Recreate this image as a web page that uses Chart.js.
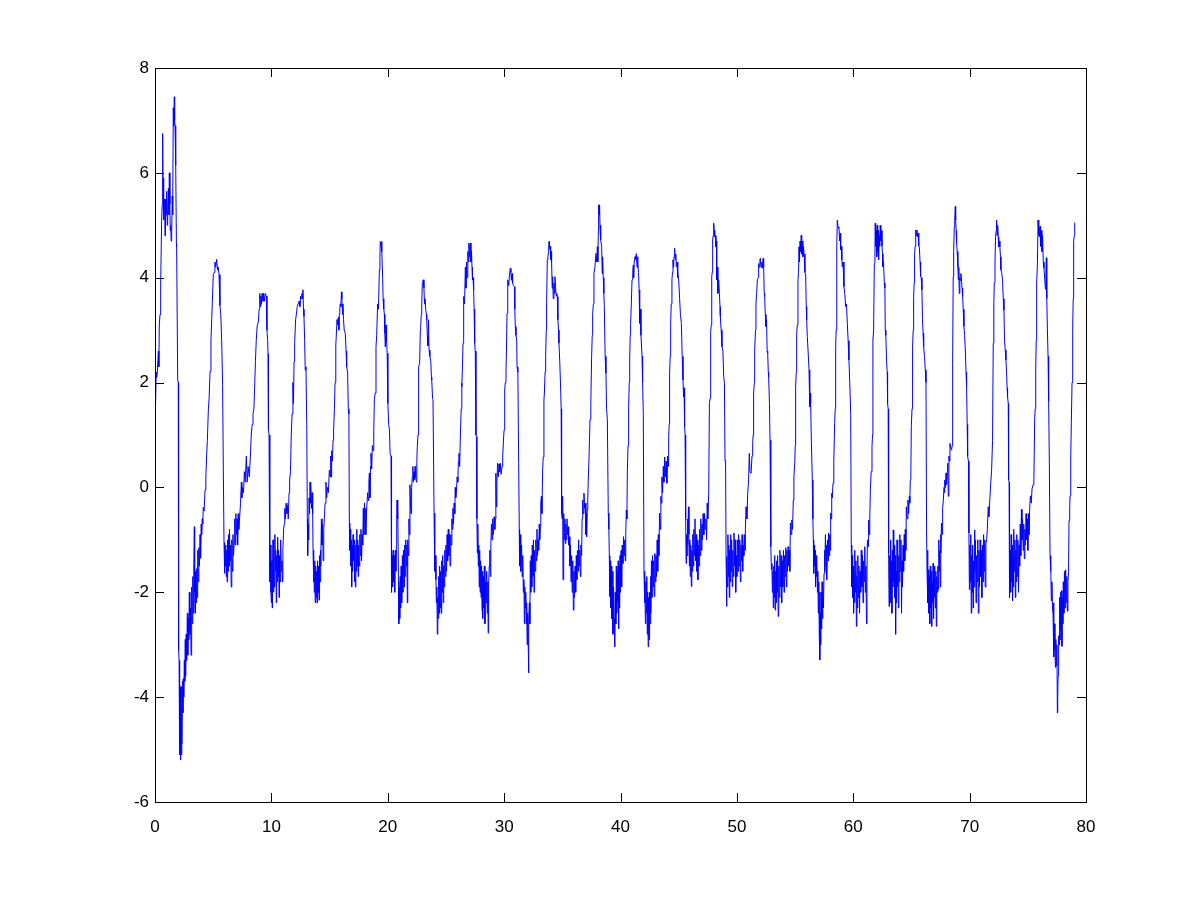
<!DOCTYPE html>
<html>
<head>
<meta charset="utf-8">
<script src="https://cdn.jsdelivr.net/npm/chart.js@4"></script>
<style>
  body { margin: 0; background: #fff; }
  canvas { display: block; }
</style>
</head>
<body>
<canvas id="signal-chart" width="1200" height="901"></canvas>
<script>
// sample times
const timeSec = [
  0.05,0.1,0.14,0.2,0.29,0.33,0.37,0.43,0.49,0.57,0.62,0.66,0.69,0.72,0.77,
  0.82,0.86,0.9,0.95,1.0,1.05,1.09,1.15,1.2,1.23,1.28,1.31,1.35,1.39,1.43,
  1.48,1.52,1.57,1.62,1.66,1.69,1.72,1.76,1.8,1.84,1.86,1.95,2.0,
  2.03,2.07,2.1,2.13,2.16,2.19,2.22,2.26,2.29,2.32,2.36,2.4,2.43,2.47,2.52,
  2.56,2.6,2.63,2.68,2.72,2.78,2.82,2.86,2.9,2.95,3.0,3.05,3.1,3.15,3.2,
  3.25,3.29,3.33,3.38,3.41,3.44,3.48,3.53,3.58,3.62,3.67,3.72,3.77,3.82,3.87,
  3.92,3.97,4.01,4.06,4.1,4.15,4.22,4.3,
  4.37,4.44,4.5,4.58,4.65,4.73,4.81,4.87,4.93,5.01,5.08,5.15,5.22,5.3,5.37,
  5.44,5.5,5.58,5.65,5.73,5.81,5.87,5.93,
  // cycle 1
  5.97,6.0,6.04,6.08,6.12,6.16,6.2,6.24,6.28,6.32,6.36,6.4,6.45,6.5,6.55,
  6.6,6.65,6.7,6.75,6.8,6.85,6.9,6.95,7.0,7.05,7.1,7.15,7.2,7.28,7.35,
  7.42,7.46,7.52,7.6,7.68,7.75,7.85,7.92,8.0,8.1,8.2,8.27,8.35,8.42,8.5,
  8.56,8.63,8.7,8.79,8.88,8.95,9.0,9.05,9.1,9.15,9.2,9.27,9.33,9.4,9.47,
  9.56,9.62,9.68,9.71,9.74,9.76,9.8,9.85,
  // cycle 2
  9.88,9.92,9.96,10.0,10.03,10.07,10.1,10.14,10.18,10.22,10.26,10.3,10.34,10.38,10.42,
  10.46,10.5,10.54,10.58,10.62,10.66,10.7,10.75,10.8,10.85,10.9,10.95,10.99,11.05,11.1,
  11.15,11.2,11.27,11.33,11.4,11.45,11.52,11.57,11.64,11.71,11.78,11.85,11.9,11.95,12.0,
  12.08,12.15,12.22,12.3,12.38,12.45,12.52,12.58,12.63,12.67,12.71,12.76,12.8,12.86,12.91,
  12.97,13.04,13.09,13.12,13.16,13.2,13.24,13.28,13.32,13.36,13.4,13.45,13.5,13.55,13.58,
  // cycle 3
  13.62,13.65,13.69,13.73,13.77,13.81,13.85,13.89,13.93,13.97,14.01,14.05,14.1,14.14,14.18,
  14.22,14.26,14.3,14.35,14.4,14.45,14.5,14.55,14.62,14.69,14.75,14.82,14.9,14.98,15.05,
  15.1,15.15,15.18,15.25,15.3,15.35,15.42,15.47,15.52,15.55,15.6,15.64,15.7,15.76,15.8,
  15.84,15.88,15.92,15.97,16.02,16.06,16.12,16.15,16.2,16.26,16.35,16.42,16.47,16.55,16.61,
  16.66,16.7,
  // cycle 4
  16.74,16.78,16.82,16.86,16.9,16.94,16.98,17.02,17.06,17.1,17.14,17.18,17.22,17.26,17.3,
  17.34,17.38,17.42,17.46,17.5,17.55,17.6,17.65,17.7,17.75,17.8,17.85,17.9,17.95,18.0,
  18.05,18.1,18.13,18.2,18.27,18.33,18.38,18.42,18.47,18.52,18.56,18.62,18.68,18.75,18.8,
  18.85,18.92,18.99,19.05,19.13,19.2,19.28,19.33,19.36,19.42,19.48,19.5,19.56,19.6,19.66,
  19.71,19.75,19.79,19.85,19.9,19.95,20.0,20.02,20.08,20.15,20.2,20.28,20.31,
  // cycle 5
  20.34,20.38,20.42,20.46,20.5,20.55,20.6,20.65,20.7,20.74,20.77,20.8,20.84,20.88,20.92,
  20.95,20.99,21.03,21.07,21.11,21.15,21.2,21.26,21.3,21.35,21.4,21.45,21.5,21.55,21.6,
  21.65,21.68,21.72,21.77,21.82,21.86,21.91,21.95,22.0,22.05,22.11,22.16,22.2,22.26,22.3,
  22.35,22.4,22.46,22.5,22.54,22.6,22.63,22.68,22.74,22.8,22.83,22.88,22.92,22.97,23.02,
  23.06,23.11,23.16,23.2,23.26,23.32,23.35,23.4,23.45,23.5,23.55,23.62,23.7,23.75,23.78,
  23.85,23.89,23.98,
  // cycle 6
  24.02,24.06,24.1,24.14,24.18,24.22,24.26,24.3,24.34,24.38,24.42,24.46,24.5,24.55,24.6,
  24.64,24.68,24.72,24.77,24.81,24.85,24.9,24.95,25.0,25.05,25.1,25.15,25.2,25.25,25.3,
  25.36,25.41,25.46,25.51,25.55,25.6,25.65,25.7,25.76,25.8,25.84,25.9,25.96,26.02,26.07,
  26.12,26.18,26.23,26.27,26.31,26.35,26.38,26.42,26.47,26.5,26.52,26.55,26.6,26.67,26.72,
  26.77,26.82,26.88,26.93,26.97,27.02,27.06,27.1,27.15,27.2,27.24,27.28,27.33,27.38,27.42,
  27.47,27.52,27.58,27.62,27.66,
  // cycle 7
  27.7,27.74,27.78,27.82,27.86,27.9,27.94,27.98,28.02,28.06,28.1,28.14,28.18,28.22,28.26,
  28.3,28.35,28.4,28.45,28.5,28.55,28.6,28.63,28.67,28.72,28.77,28.81,28.86,28.91,28.96,
  29.02,29.08,29.14,29.2,29.24,29.29,29.33,29.38,29.44,29.5,29.56,29.62,29.68,29.74,29.82,
  29.88,29.96,30.0,30.05,30.1,30.16,30.2,30.25,30.29,30.33,30.4,30.46,30.53,30.58,30.63,
  30.68,30.73,30.8,30.88,30.92,30.96,31.02,31.08,31.11,31.18,31.25,31.3,
  // cycle 8
  31.33,31.37,31.41,31.45,31.5,31.55,31.6,31.65,31.7,31.74,31.78,31.82,31.86,31.9,31.94,
  31.98,32.02,32.06,32.1,32.13,32.17,32.21,32.25,32.29,32.33,32.38,32.42,32.47,32.52,32.57,
  32.62,32.67,32.72,32.77,32.82,32.87,32.92,32.97,33.02,33.06,33.11,33.15,33.2,33.25,33.31,
  33.36,33.42,33.46,33.52,33.57,33.62,33.65,33.71,33.76,33.82,33.86,33.9,33.95,34.0,34.03,
  34.08,34.13,34.17,34.22,34.28,34.33,34.37,34.42,34.48,34.53,34.57,34.62,34.68,34.71,34.78,
  34.86,34.9,34.94,
  // cycle 9
  34.98,35.03,35.06,35.1,35.14,35.18,35.22,35.26,35.3,35.35,35.4,35.45,35.51,35.55,35.6,
  35.65,35.7,35.75,35.8,35.85,35.9,35.95,36.0,36.05,36.1,36.15,36.2,36.25,36.3,36.35,
  36.4,36.45,36.5,36.55,36.6,36.66,36.7,36.75,36.8,36.86,36.92,36.98,37.03,37.06,37.09,
  37.14,37.19,37.23,37.3,37.38,37.45,37.52,37.57,37.61,37.67,37.72,37.8,37.89,37.95,38.01,
  38.05,38.1,38.12,38.16,38.2,38.25,38.28,38.32,38.38,38.43,38.46,38.52,38.57,38.61,38.68,
  38.75,38.8,38.87,38.95,
  // cycle 10
  39.0,39.04,39.08,39.12,39.16,39.2,39.25,39.3,39.35,39.4,39.45,39.5,39.55,39.6,39.64,
  39.68,39.72,39.76,39.8,39.84,39.88,39.92,39.96,40.0,40.05,40.1,40.15,40.21,40.26,40.31,
  40.36,40.41,40.45,40.5,40.55,40.59,40.65,40.7,40.75,40.79,40.83,40.87,40.93,40.99,41.05,
  41.1,41.13,41.18,41.25,41.3,41.36,41.42,41.47,41.5,41.55,41.6,41.65,41.7,41.76,41.85,
  41.9,41.96,42.02,
  // cycle 11
  42.06,42.1,42.14,42.18,42.22,42.26,42.3,42.34,42.38,42.42,42.46,42.5,42.54,42.58,42.62,
  42.66,42.7,42.75,42.8,42.85,42.9,42.95,43.0,43.05,43.1,43.15,43.2,43.25,43.3,43.36,
  43.42,43.47,43.51,43.56,43.62,43.68,43.73,43.8,43.85,43.92,43.98,44.05,44.1,44.14,44.18,
  44.22,44.27,44.31,44.36,44.42,44.47,44.51,44.56,44.6,44.65,44.7,44.75,44.8,44.86,44.9,
  44.94,45.0,45.08,45.15,45.23,45.3,45.37,45.42,45.46,45.51,45.55,45.6,
  // cycle 12
  45.64,45.68,45.72,45.76,45.8,45.84,45.88,45.92,45.96,46.0,46.04,46.09,46.13,46.17,46.21,
  46.26,46.3,46.35,46.4,46.45,46.5,46.55,46.6,46.65,46.7,46.75,46.8,46.85,46.9,46.95,
  47.0,47.05,47.1,47.16,47.22,47.28,47.34,47.4,47.45,47.5,47.58,47.64,47.7,47.75,47.8,
  47.84,47.88,47.92,47.96,48.01,48.06,48.1,48.15,48.2,48.24,48.27,48.32,48.37,48.44,48.5,
  48.55,48.58,48.65,48.72,48.8,48.87,48.93,48.98,49.03,49.07,
  // cycle 13
  49.11,49.15,49.19,49.23,49.27,49.31,49.35,49.39,49.43,49.47,49.51,49.55,49.6,49.65,49.7,
  49.75,49.8,49.85,49.9,49.95,50.0,50.05,50.1,50.15,50.2,50.25,50.3,50.35,50.4,50.45,
  50.5,50.55,50.6,50.65,50.7,50.73,50.79,50.86,50.93,51.0,51.07,51.13,51.22,51.3,51.36,
  51.4,51.44,51.5,51.53,51.6,51.64,51.7,51.76,51.82,51.87,51.92,51.98,52.02,52.08,52.14,
  52.2,52.26,52.3,52.35,52.39,52.44,52.5,52.55,52.6,52.65,52.7,52.73,52.8,52.85,52.9,
  52.93,
  // cycle 14
  52.97,53.01,53.05,53.09,53.13,53.17,53.21,53.25,53.29,53.33,53.37,53.41,53.45,53.5,53.55,
  53.6,53.65,53.7,53.75,53.8,53.85,53.9,53.95,54.0,54.05,54.1,54.15,54.2,54.25,54.3,
  54.35,54.4,54.45,54.5,54.55,54.6,54.66,54.72,54.78,54.85,54.9,54.97,55.02,55.05,55.1,
  55.14,55.2,55.25,55.3,55.34,55.38,55.43,55.48,55.53,55.57,55.62,55.67,55.72,55.78,55.85,
  55.91,55.96,56.0,56.05,56.12,56.2,56.26,56.3,56.34,56.4,56.48,56.53,56.57,
  // cycle 15
  56.6,56.64,56.68,56.72,56.76,56.8,56.84,56.88,56.92,56.96,57.0,57.04,57.08,57.11,57.14,
  57.17,57.2,57.24,57.28,57.32,57.36,57.4,57.44,57.49,57.53,57.57,57.61,57.66,57.7,57.74,
  57.79,57.84,57.88,57.93,57.98,58.03,58.06,58.1,58.15,58.2,58.26,58.33,58.4,58.45,58.49,
  58.53,58.57,58.6,58.63,58.7,58.77,58.83,58.88,58.92,58.98,59.02,59.06,59.12,59.2,59.27,
  59.35,59.42,59.49,59.56,59.63,59.7,59.78,59.83,
  // cycle 16
  59.87,59.91,59.95,59.99,60.03,60.07,60.11,60.15,60.19,60.23,60.27,60.31,60.35,60.39,60.44,
  60.49,60.54,60.59,60.64,60.69,60.74,60.79,60.84,60.89,60.94,60.99,61.04,61.09,61.14,61.18,
  61.22,61.27,61.32,61.37,61.42,61.47,61.54,61.61,61.66,61.69,61.75,61.81,61.86,61.89,61.93,
  61.97,62.02,62.06,62.1,62.14,62.18,62.22,62.27,62.32,62.37,62.42,62.47,62.51,62.55,62.6,
  62.67,62.72,62.75,62.8,62.87,62.92,62.95,63.0,63.04,
  // cycle 17
  63.08,63.12,63.16,63.2,63.24,63.28,63.32,63.36,63.4,63.44,63.48,63.52,63.56,63.6,63.64,
  63.68,63.72,63.76,63.8,63.84,63.88,63.92,63.96,64.0,64.05,64.1,64.15,64.19,64.23,64.28,
  64.33,64.38,64.43,64.47,64.52,64.56,64.63,64.7,64.76,64.82,64.86,64.9,64.95,64.99,65.05,
  65.1,65.15,65.19,65.23,65.27,65.32,65.37,65.42,65.47,65.52,65.58,65.63,65.68,65.74,65.79,
  65.84,65.9,65.95,66.0,66.05,66.12,66.19,66.25,66.3,
  // cycle 18
  66.34,66.38,66.42,66.46,66.5,66.54,66.58,66.62,66.66,66.7,66.74,66.78,66.82,66.86,66.9,
  66.94,66.98,67.02,67.06,67.1,67.14,67.18,67.22,67.27,67.31,67.35,67.39,67.43,67.48,67.51,
  67.54,67.58,67.63,67.68,67.74,67.8,67.84,67.88,67.92,67.97,68.02,68.07,68.12,68.17,68.22,
  68.26,68.31,68.38,68.45,68.5,68.54,68.59,68.63,68.68,68.72,68.77,68.8,68.84,68.88,68.93,
  68.99,69.03,69.07,69.11,69.16,69.2,69.25,69.3,69.35,69.4,69.45,69.51,69.57,69.63,69.69,
  69.74,69.79,69.83,69.9,69.94,
  // cycle 19
  69.98,70.02,70.06,70.1,70.14,70.18,70.22,70.26,70.3,70.34,70.38,70.42,70.46,70.5,70.55,
  70.6,70.65,70.7,70.75,70.8,70.85,70.9,70.95,71.0,71.05,71.1,71.15,71.2,71.25,71.3,
  71.34,71.4,71.46,71.52,71.6,71.65,71.75,71.82,71.89,71.97,72.03,72.08,72.12,72.18,72.23,
  72.28,72.32,72.36,72.41,72.46,72.5,72.55,72.6,72.65,72.69,72.75,72.83,72.89,72.95,73.0,
  73.06,73.12,73.18,73.22,73.26,73.32,73.35,73.39,73.41,
  // cycle 20
  73.45,73.49,73.53,73.57,73.61,73.65,73.69,73.73,73.77,73.81,73.85,73.89,73.93,73.97,74.01,
  74.05,74.1,74.15,74.2,74.25,74.3,74.35,74.4,74.45,74.5,74.55,74.6,74.65,74.7,74.75,
  74.8,74.85,74.9,74.95,75.0,75.05,75.1,75.16,75.22,75.3,75.36,75.45,75.52,75.59,75.63,
  75.68,75.72,75.76,75.82,75.88,75.92,75.96,76.0,76.05,76.1,76.16,76.21,76.27,76.33,76.39,
  76.45,76.51,76.55,76.59,76.63,76.68,76.74,76.79,76.85,76.91,
  // cycle 21
  76.95,76.99,77.02,77.07,77.12,77.17,77.21,77.25,77.29,77.33,77.37,77.41,77.45,77.5,77.54,
  77.57,77.6,77.65,77.69,77.73,77.77,77.81,77.85,77.89,77.93,77.97,78.01,78.05,78.1,78.15,
  78.2,78.25,78.3,78.35,78.4,78.45,78.5,78.54,78.6,78.63,78.69,78.74,78.8,78.86,78.9,
  78.94,78.99,79.03
];

// signal values, same layout as timeSec
const signal = [
  1.6,2.2,2.1,2.2,2.6,2.3,3.1,3.3,3.9,5.1,5.4,6.75,5.6,5.9,5.1,
  5.5,4.8,5.5,5.2,5.65,5.0,5.3,5.7,5.2,6.0,5.4,4.9,5.0,4.7,4.75,
  5.56,5.2,7.24,6.9,7.45,7.0,6.9,6.4,6.15,4.64,4.6,2.05,2.0,
  -3.1,-3.3,-4.2,-5.1,-3.8,-5.2,-4.0,-5.1,-3.8,-4.9,-3.7,-4.3,-3.65,-4.0,-3.3,
  -3.7,-2.9,-3.6,-2.8,-3.3,-2.4,-3.2,-2.5,-2.9,-2.0,-2.8,-2.3,-3.2,-1.9,-2.6,
  -1.7,-2.4,-1.6,-0.75,-2.0,-2.4,-1.6,-2.2,-1.55,-2.1,-1.2,-1.8,-1.15,-1.5,-0.9,
  -1.35,-0.7,-0.9,-0.6,-0.7,-0.38,-0.45,-0.05,
  0.2,0.62,0.9,1.46,1.7,2.21,2.8,3.2,3.55,4.06,4.1,4.3,4.2,4.35,4.15,
  4.2,4.06,3.47,3.3,2.8,1.96,0.37,-1.05,
  // cycle 1
  -1.64,-1.2,-1.5,-1.1,-1.7,-1.2,-1.8,-1.0,-1.6,-0.9,-1.5,-0.8,-1.4,-1.1,-1.9,
  -1.0,-1.6,-0.9,-1.3,-1.05,-0.6,-1.1,-0.5,-0.9,-0.6,-1.1,-0.5,-0.8,-0.55,-0.3,
  0.1,-0.2,0.0,-0.1,0.3,0.1,0.6,0.1,0.4,0.2,0.6,1.0,1.2,1.4,1.5,
  1.9,2.4,2.8,3.1,3.15,3.4,3.7,3.45,3.65,3.5,3.7,3.55,3.7,3.55,3.7,
  3.65,3.0,2.8,2.55,2.5,1.1,1.0,-0.9,
  // cycle 2
  -1.8,-1.1,-2.0,-2.2,-1.4,-2.3,-1.5,-1.0,-2.0,-1.2,-1.9,-0.9,-1.6,-1.2,-2.2,
  -1.3,-1.8,-0.95,-1.7,-1.2,-2.1,-1.3,-1.8,-1.0,-1.6,-1.4,-1.8,-1.2,-0.8,-0.7,
  -0.4,-0.6,-0.3,-0.5,-0.35,-0.6,-0.1,0.14,0.3,1.0,1.4,2.0,1.6,2.4,2.75,
  3.2,3.3,3.45,3.5,3.55,3.45,3.65,3.6,3.7,3.6,3.77,3.4,3.26,2.8,2.24,
  2.3,1.2,-0.6,-1.3,-0.7,-1.0,-0.2,-0.5,0.1,-0.3,0.05,-0.4,-0.1,-0.5,-1.2,
  // cycle 3
  -1.8,-1.3,-2.0,-1.4,-2.2,-1.5,-2.1,-1.6,-2.2,-1.4,-2.0,-1.5,-2.15,-1.3,-1.8,
  -1.2,-1.5,-0.6,-1.1,-0.7,-1.4,-0.8,-0.6,-0.3,0.1,-0.2,0.0,-0.1,0.33,0.2,
  0.6,0.2,0.7,0.5,0.9,1.1,1.5,2.0,2.4,2.7,3.0,3.2,3.1,3.25,3.0,
  3.3,3.4,3.5,3.45,3.73,3.6,3.3,3.5,3.2,3.0,2.94,2.6,2.3,2.2,1.5,
  1.4,-0.68,
  // cycle 4
  -1.2,-0.8,-1.5,-1.0,-1.9,-1.1,-1.6,-0.9,-1.4,-1.0,-1.8,-1.2,-1.9,-1.1,-1.6,
  -0.8,-1.5,-1.0,-1.7,-1.1,-1.5,-0.9,-1.3,-0.8,-1.4,-0.9,-1.1,-0.4,-0.9,-0.3,
  -0.6,-0.4,-0.9,-0.35,-0.1,-0.25,0.1,0.27,-0.2,0.4,0.65,0.35,0.8,0.7,1.1,
  1.67,1.8,2.68,2.9,3.5,3.4,4.15,4.4,4.69,4.6,4.69,4.5,4.0,3.6,3.4,
  3.3,2.94,2.68,3.1,2.8,2.56,1.8,1.6,1.2,1.1,0.65,0.6,-1.1,
  // cycle 5
  -2.0,-1.3,-1.9,-1.2,-1.8,-1.3,-2.0,-1.2,-1.6,-1.1,-0.5,-0.24,-0.6,-0.4,-1.8,
  -2.6,-1.9,-2.5,-1.7,-2.3,-1.5,-2.2,-1.3,-2.0,-1.2,-1.9,-1.1,-1.7,-1.0,-1.5,
  -1.1,-2.2,-1.0,-1.3,-0.6,-0.9,0.05,-0.3,-0.5,0.0,0.2,0.4,0.1,0.3,0.15,
  0.4,0.2,0.1,0.5,0.78,1.0,1.16,2.3,2.37,3.0,3.07,3.3,3.48,3.9,3.95,
  3.96,3.8,3.5,3.6,3.4,3.3,3.2,2.9,2.7,3.2,2.62,2.5,2.4,2.1,2.05,
  1.7,1.67,-0.49,
  // cycle 6
  -1.0,-1.6,-1.3,-1.76,-2.2,-1.9,-2.8,-2.1,-2.5,-1.7,-2.4,-1.5,-2.3,-1.6,-2.4,
  -1.4,-2.0,-1.3,-2.2,-1.5,-1.9,-1.2,-1.7,-1.1,-1.6,-0.9,-1.4,-0.8,-1.3,-0.9,
  -1.5,-0.9,-1.1,-0.6,-0.8,-0.4,-0.7,-0.3,-0.5,0.0,-0.2,-0.1,0.2,0.1,0.5,
  0.65,0.4,0.9,0.9,1.5,1.99,1.92,2.3,2.75,3.0,3.45,3.64,3.5,4.2,3.8,
  4.3,4.0,4.5,4.3,4.66,4.4,4.6,4.66,4.3,4.5,4.2,3.96,4.0,3.77,3.4,
  2.75,2.6,1.0,0.97,-0.6,
  // cycle 7
  -1.25,-0.7,-1.5,-1.1,-1.9,-1.2,-2.0,-1.4,-2.1,-1.5,-2.3,-1.6,-2.5,-1.7,-2.3,
  -1.5,-2.6,-1.8,-2.2,-1.6,-2.4,-1.8,-2.78,-1.9,-1.5,-1.2,-1.7,-1.1,-0.7,-1.0,
  -0.6,-0.9,-0.56,-0.8,-0.6,0.27,-0.37,0.1,0.46,0.2,0.45,0.3,0.46,0.25,0.4,
  0.6,0.97,1.1,1.86,2.0,2.24,2.6,3.32,3.5,3.96,3.85,4.05,4.18,4.1,3.95,
  4.08,3.9,3.85,3.83,3.4,3.07,2.9,2.81,2.3,2.2,0.46,-0.8,
  // cycle 8
  -1.5,-0.9,-1.2,-1.6,-1.1,-1.7,-1.3,-2.0,-1.76,-2.6,-1.9,-2.3,-2.0,-2.6,-2.2,
  -3.0,-2.4,-2.9,-3.54,-2.5,-2.2,-2.6,-1.4,-2.0,-1.3,-1.9,-1.1,-1.7,-1.0,-2.0,
  -1.2,-1.6,-1.0,-1.4,-0.8,-1.3,-1.0,-1.2,-0.7,-1.0,-0.75,-0.3,-0.17,-0.5,0.33,
  0.58,1.67,1.8,2.2,2.5,3.0,3.5,4.34,4.4,4.5,4.69,4.55,4.6,4.35,4.5,
  4.3,3.8,4.02,3.6,3.9,3.7,4.02,3.8,3.65,3.7,3.64,3.2,3.0,2.75,2.4,
  1.86,1.5,-0.5,
  // cycle 9
  -0.6,-0.17,-1.76,-0.8,-0.5,-1.0,-0.6,-1.07,-0.7,-1.0,-0.6,-0.9,-0.75,-1.1,-0.94,
  -1.5,-1.1,-1.8,-1.3,-2.0,-1.4,-2.34,-1.6,-2.1,-1.5,-2.0,-1.3,-1.76,-1.2,-1.6,
  -1.0,-1.5,-1.2,-1.7,-1.1,-1.3,-0.6,-0.24,-0.5,-0.11,-0.4,-0.3,-0.9,-0.5,-0.94,
  -0.43,-0.2,0.14,0.6,1.29,1.6,2.5,2.9,3.32,3.5,4.08,4.2,4.46,4.3,4.59,
  4.3,4.9,5.39,5.2,5.39,4.9,5.0,4.72,4.6,4.08,4.4,4.0,3.7,3.45,2.5,
  2.18,1.5,1.29,-0.49,
  // cycle 10
  -0.8,-1.3,-2.08,-1.4,-2.3,-1.5,-2.5,-1.6,-2.8,-1.9,-2.5,-3.04,-2.0,-2.6,-1.5,
  -2.4,-1.6,-2.2,-1.4,-2.7,-1.5,-2.3,-1.3,-2.0,-1.2,-1.9,-1.1,-1.45,-0.94,-1.3,
  -1.0,-1.4,-0.9,-0.43,-0.6,0.33,0.8,1.54,2.0,2.43,2.9,3.13,3.5,3.96,4.1,
  4.24,4.0,4.3,4.4,4.35,4.46,4.2,4.4,4.27,4.1,3.77,3.13,3.4,2.9,2.5,
  2.0,1.41,-1.64,
  // cycle 11
  -2.2,-1.6,-2.6,-1.8,-2.4,-1.7,-2.8,-2.0,-3.04,-2.1,-2.9,-2.0,-2.6,-1.7,-2.4,
  -1.4,-2.1,-1.3,-1.9,-1.4,-2.08,-1.26,-1.8,-1.3,-1.7,-1.0,-1.6,-0.9,-1.3,-0.49,
  -0.8,-0.17,-0.3,0.2,-0.1,0.4,0.1,0.58,0.2,0.5,0.08,0.6,0.4,0.97,1.2,
  2.18,2.5,3.13,3.5,3.96,4.1,4.34,4.2,4.4,4.56,4.35,4.45,4.21,4.3,4.0,
  4.1,3.96,3.6,3.3,3.13,2.5,2.05,1.73,1.9,1.16,1.0,-0.62,
  // cycle 12
  -1.45,-0.9,-1.3,-0.6,-1.1,-0.37,-0.9,-1.5,-1.0,-1.7,-1.1,-1.89,-1.2,-1.6,-0.9,
  -1.5,-0.8,-1.3,-0.6,-1.4,-0.9,-1.6,-1.0,-1.76,-1.1,-1.5,-0.8,-1.3,-0.6,-1.2,
  -0.7,-1.0,-0.5,-0.9,-0.5,-0.8,-0.6,-1.0,-0.3,-0.6,-0.11,1.6,1.7,2.97,3.1,
  4.02,4.1,4.72,4.8,5.04,4.9,4.78,4.8,4.59,4.7,3.96,4.2,3.7,3.96,3.7,
  3.45,3.26,3.0,2.68,2.6,2.11,2.0,0.52,0.5,-1.32,
  // cycle 13
  -2.27,-1.4,-1.9,-0.9,-1.7,-1.1,-2.1,-1.2,-1.8,-0.9,-1.6,-1.0,-1.89,-1.2,-1.7,
  -0.87,-1.5,-1.0,-2.0,-1.3,-1.7,-1.0,-1.6,-0.9,-1.5,-1.0,-1.8,-1.1,-1.4,-0.9,
  -1.6,-1.1,-1.3,-0.9,-1.2,-0.81,-0.37,-0.6,-0.11,0.1,0.65,0.3,0.27,0.6,0.84,
  1.0,1.8,2.0,2.62,3.0,3.5,3.7,3.96,4.0,4.27,4.2,4.35,4.37,4.2,4.3,
  4.18,4.37,4.2,3.7,3.64,3.3,3.07,3.2,2.6,2.56,2.2,2.11,1.6,0.9,0.8,
  -1.13,
  // cycle 14
  -1.57,-1.45,-2.0,-1.6,-2.3,-1.5,-2.1,-1.3,-2.34,-1.6,-2.2,-1.4,-2.0,-1.3,-2.46,
  -1.5,-2.1,-1.2,-1.9,-1.3,-2.2,-1.4,-1.9,-1.2,-2.0,-1.3,-1.7,-1.15,-1.9,-1.2,
  -1.6,-1.13,-1.5,-1.2,-1.6,-0.68,-0.9,-0.62,-0.8,-0.24,0.2,0.46,0.8,1.92,2.2,
  2.94,3.1,3.96,4.1,4.59,4.3,4.7,4.5,4.81,4.45,4.7,4.4,4.6,4.45,4.1,
  4.08,3.45,3.2,2.88,2.6,2.24,1.54,1.8,1.6,0.9,0.14,-0.6,-1.0,
  // cycle 15
  -1.64,-1.1,-1.5,-1.2,-1.9,-1.3,-1.7,-1.4,-2.0,-1.6,-2.4,-1.8,-2.8,-2.0,-3.29,
  -2.4,-3.0,-2.0,-2.7,-1.8,-2.5,-1.9,-2.3,-1.64,-1.2,-1.6,-0.9,-1.5,-1.1,-1.76,
  -1.0,-1.4,-0.87,-1.3,-0.9,-1.2,-0.49,-0.6,-0.11,-0.2,0.08,0.5,1.22,1.5,2.68,
  3.0,4.08,4.6,5.1,4.95,4.97,4.7,4.85,4.53,4.6,4.34,4.21,4.3,3.83,3.7,
  3.45,3.5,3.13,2.8,2.43,2.0,1.41,-1.1,
  // cycle 16
  -1.9,-1.3,-2.1,-1.5,-2.4,-1.6,-2.2,-1.2,-2.0,-1.4,-2.65,-1.7,-2.3,-1.3,-2.1,
  -1.5,-2.4,-1.6,-2.0,-1.2,-1.9,-1.3,-2.2,-1.4,-1.8,-1.13,-2.0,-1.5,-2.6,-1.6,
  -1.0,-1.13,-0.62,-0.9,-0.6,-0.05,0.3,0.78,1.0,2.81,3.0,4.27,4.4,5.04,4.6,
  4.9,4.4,5.0,4.5,4.9,4.34,4.8,4.6,5.0,4.7,4.9,4.6,4.46,4.21,4.3,
  3.9,3.8,3.0,2.9,2.37,2.2,1.6,1.5,-1.26,
  // cycle 17
  -2.27,-1.3,-2.0,-1.0,-2.2,-1.4,-2.4,-1.2,-1.9,-0.81,-1.8,-1.1,-2.1,-1.3,-2.8,
  -1.6,-2.2,-1.0,-1.9,-1.2,-2.3,-1.3,-1.8,-0.9,-1.6,-1.0,-2.4,-1.4,-1.9,-1.1,
  -1.6,-0.9,-1.4,-0.8,-1.2,-0.37,-0.6,-0.24,-0.5,-0.17,-0.3,0.14,0.3,1.16,1.5,
  2.68,3.0,3.64,3.9,4.46,4.6,4.91,4.8,4.91,4.78,4.85,4.6,4.59,4.3,4.02,
  4.0,3.77,3.2,2.94,2.68,2.5,2.24,2.0,-0.81,
  // cycle 18
  -1.6,-1.2,-2.2,-1.57,-2.4,-1.7,-2.6,-1.5,-2.3,-1.6,-2.65,-1.8,-2.2,-1.45,-2.5,
  -1.6,-2.1,-1.5,-2.3,-1.6,-2.65,-1.7,-2.0,-1.5,-1.95,-1.0,-1.6,-1.2,-1.9,-0.9,
  -1.25,-0.68,-0.9,-0.4,-0.24,0.0,-0.1,0.14,0.0,0.27,0.05,0.3,0.46,-0.17,0.6,
  0.5,0.84,0.75,0.71,0.8,2.37,4.02,4.5,4.97,5.1,5.36,5.1,4.9,4.66,4.5,
  4.2,3.96,4.2,3.7,4.0,3.95,4.08,3.96,3.8,3.64,3.4,3.07,2.9,2.62,2.2,
  1.92,1.2,0.59,0.5,-0.87,
  // cycle 19
  -1.95,-1.1,-1.8,-0.9,-2.4,-1.3,-2.0,-1.1,-2.3,-1.4,-1.9,-0.81,-1.6,-1.0,-2.2,
  -1.3,-1.8,-1.0,-2.4,-1.2,-1.9,-1.0,-1.7,-1.2,-2.1,-1.1,-1.8,-0.9,-1.6,-1.0,
  -1.9,-1.07,-1.0,-0.8,-0.37,-0.56,-0.17,0.1,0.33,0.9,2.75,3.5,3.9,4.3,4.78,
  4.9,5.1,4.8,5.0,4.78,4.59,4.7,4.59,4.4,4.15,4.1,3.96,3.6,3.38,2.8,
  2.62,2.43,2.18,1.9,1.73,1.6,0.14,0.1,-1.57,
  // cycle 20
  -2.1,-1.2,-2.0,-0.9,-1.8,-1.1,-2.16,-1.3,-1.9,-0.8,-1.6,-1.0,-2.1,-1.2,-1.8,
  -0.9,-1.7,-1.0,-2.0,-1.1,-1.5,-0.7,-1.3,-0.42,-1.0,-0.6,-1.2,-0.7,-1.36,-0.8,
  -1.1,-0.5,-1.0,-0.6,-1.2,-0.5,-0.9,-0.4,-0.16,-0.3,-0.03,0.05,0.1,1.3,1.5,
  2.24,2.8,3.9,4.2,5.1,4.8,5.0,4.78,4.98,4.6,4.9,4.5,4.8,4.3,4.18,
  3.98,3.78,4.0,4.38,3.6,3.04,2.5,1.64,0.5,-1.3,
  // cycle 21
  -1.6,-1.5,-2.16,-1.8,-2.3,-2.43,-2.2,-3.23,-2.6,-3.1,-3.43,-2.9,-3.4,-3.0,-4.3,
  -4.03,-3.6,-2.83,-3.0,-2.1,-2.9,-2.0,-2.7,-1.97,-3.03,-2.1,-2.6,-1.8,-2.4,-1.6,
  -2.3,-1.57,-2.2,-1.7,-2.36,-1.8,-1.6,-0.63,-0.4,-0.16,0.6,1.24,2.0,3.04,3.6,
  4.71,4.8,5.05
];

const xTicks = [0, 10, 20, 30, 40, 50, 60, 70, 80];
const yTicks = [-6, -4, -2, 0, 2, 4, 6, 8];

// matlab style box with ticks pointing inwards
const boxFrame = {
  id: "boxFrame",
  afterDatasetsDraw(chart) {
    const { ctx, chartArea: a, scales } = chart;
    const len = 9;
    ctx.save();
    ctx.strokeStyle = "#000";
    ctx.lineWidth = 1;
    ctx.strokeRect(a.left + 0.5, a.top + 0.5, a.right - a.left, a.bottom - a.top);
    ctx.beginPath();
    xTicks.forEach((v) => {
      const px = Math.round(scales.x.getPixelForValue(v)) + 0.5;
      ctx.moveTo(px, a.bottom);
      ctx.lineTo(px, a.bottom - len);
      ctx.moveTo(px, a.top);
      ctx.lineTo(px, a.top + len);
    });
    yTicks.forEach((v) => {
      const py = Math.round(scales.y.getPixelForValue(v)) + 0.5;
      ctx.moveTo(a.left, py);
      ctx.lineTo(a.left + len, py);
      ctx.moveTo(a.right, py);
      ctx.lineTo(a.right - len, py);
    });
    ctx.stroke();
    ctx.restore();
  },
};

const n = Math.min(timeSec.length, signal.length);
const points = [];
for (let i = 0; i < n; i++) points.push({ x: timeSec[i], y: signal[i] });

const tickFont = { family: "'Liberation Sans', Arial, sans-serif", size: 17 };

new Chart(document.getElementById("signal-chart"), {
  type: "line",
  data: {
    datasets: [
      {
        data: points,
        borderColor: "#0000ff",
        borderWidth: 1,
        pointRadius: 0,
        tension: 0,
        fill: false,
      },
    ],
  },
  options: {
    responsive: false,
    animation: false,
    events: [],
    layout: { padding: { top: 68, right: 114, bottom: 0, left: 0 } },
    plugins: { legend: { display: false }, tooltip: { enabled: false } },
    scales: {
      x: {
        type: "linear",
        min: 0,
        max: 80,
        afterFit: (s) => { s.height = 99; },
        afterBuildTicks: (s) => { s.ticks = xTicks.map((v) => ({ value: v })); },
        grid: { display: false, drawTicks: false },
        border: { display: false },
        ticks: { color: "#000", font: tickFont, padding: 15, maxRotation: 0 },
      },
      y: {
        type: "linear",
        min: -6,
        max: 8,
        afterFit: (s) => { s.width = 155; },
        afterBuildTicks: (s) => { s.ticks = yTicks.map((v) => ({ value: v })); },
        grid: { display: false, drawTicks: false },
        border: { display: false },
        ticks: { color: "#000", font: tickFont, padding: 6 },
      },
    },
  },
  plugins: [boxFrame],
});
</script>
</body>
</html>
